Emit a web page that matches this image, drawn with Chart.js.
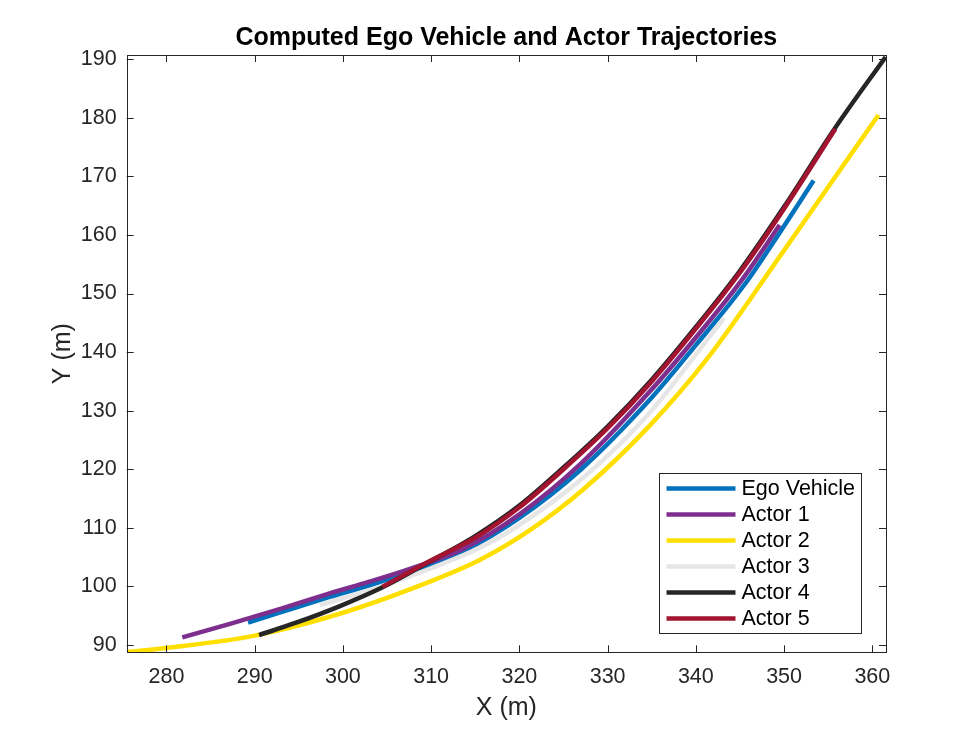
<!DOCTYPE html>
<html>
<head>
<meta charset="utf-8">
<script src="https://cdn.jsdelivr.net/npm/chart.js@4.4.1/dist/chart.umd.min.js"></script>
<style>
  body { margin: 0; background: #fff; }
  #wrap { width: 980px; height: 735px; }
</style>
</head>
<body>
<div id="wrap"><canvas id="traj" width="980" height="735"></canvas></div>
<script>
// trajectories (x, y in metres)
const egoX = [289.25, 293, 298.5, 303, 307.6, 313.6, 320, 327, 334.8, 340, 345.5, 349.5, 353.35];
const egoY = [93.8, 95.6, 98.2, 100.2, 102.5, 106.0, 111.7, 120.0, 131.9, 141.2, 151.5, 160.4, 169.3];

const actor1X = [281.8, 287.2, 293, 298.5, 303, 307.6, 313.6, 320, 327, 334.8, 340, 345.2, 349.5];
const actor1Y = [91.3, 93.6, 96.2, 98.8, 100.8, 103.0, 106.4, 112.3, 121.0, 133.3, 142.5, 152.3, 161.7];

const actor2X = [275.5, 280, 290, 300, 310, 315.5, 321.2, 327.2, 334.8, 341.2, 349.5, 355, 360.7];
const actor2Y = [88.8, 89.5, 91.6, 95.5, 100.9, 104.5, 109.6, 116.5, 127.5, 138.7, 156.3, 168.2, 180.5];

const actor3X = [297.4, 303.8, 310, 315.5, 319.3, 327.2, 334.8, 340.1, 343.2];
const actor3Y = [96.8, 99.7, 103.1, 106.6, 109.8, 118.5, 129.7, 139.8, 145.8];

const actor4X = [290.5, 294.7, 299.6, 304.5, 309.8, 315, 320, 325, 330, 335, 340, 345, 350, 355.8, 361.5];
const actor4Y = [91.7, 93.8, 96.6, 99.85, 104.2, 108.6, 113.8, 120.3, 127.3, 135.3, 144.3, 153.9, 164.8, 178.3, 190.4];

const actor5X = [304.5, 309.8, 315, 320, 325, 330, 335, 340, 345, 350, 355.8];
const actor5Y = [99.95, 104.3, 108.3, 113.5, 120.0, 127.0, 135.0, 144.0, 153.6, 164.5, 178.1];

const seriesNames = ["Ego Vehicle", "Actor 1", "Actor 2", "Actor 3", "Actor 4", "Actor 5"];
const seriesColors = ["#0072BD", "#7E2F8E", "#FFDF00", "#E6E6E6", "#262626", "#A2142F"];
const seriesX = [egoX, actor1X, actor2X, actor3X, actor4X, actor5X];
const seriesY = [egoY, actor1Y, actor2Y, actor3Y, actor4Y, actor5Y];

const xTicks = [280, 290, 300, 310, 320, 330, 340, 350, 360];
const yTicks = [90, 100, 110, 120, 130, 140, 150, 160, 170, 180, 190];
const xLimits = [275.5, 361.55];
const yLimits = [88.75, 190.73];

const axisColor = "#262626";
const fontFamily = "'Liberation Sans', Arial, Helvetica, sans-serif";

function toPoints(xs, ys) {
  return xs.map((x, i) => ({ x: x, y: ys[i] }));
}

// box, inward ticks on all four sides, and the legend in the lower right
const matlabFrame = {
  id: "matlabFrame",
  afterDraw(chart) {
    const ctx = chart.ctx;
    const a = chart.chartArea;
    const xs = chart.scales.x;
    const ys = chart.scales.y;
    const tl = 7;

    ctx.save();
    ctx.strokeStyle = axisColor;
    ctx.lineWidth = 1;
    ctx.strokeRect(Math.round(a.left) + 0.5, Math.round(a.top) + 0.5,
      Math.round(a.right - a.left), Math.round(a.bottom - a.top));

    ctx.beginPath();
    xTicks.forEach(v => {
      const px = Math.round(xs.getPixelForValue(v)) + 0.5;
      ctx.moveTo(px, a.bottom); ctx.lineTo(px, a.bottom - tl);
      ctx.moveTo(px, a.top); ctx.lineTo(px, a.top + tl);
    });
    yTicks.forEach(v => {
      const py = Math.round(ys.getPixelForValue(v)) + 0.5;
      ctx.moveTo(a.left, py); ctx.lineTo(a.left + tl, py);
      ctx.moveTo(a.right, py); ctx.lineTo(a.right - tl, py);
    });
    ctx.stroke();

    // legend
    const right = Math.round(a.right) - 24.5;
    const bottom = Math.round(a.bottom) - 18.5;
    const rowH = 26;
    const boxW = 202;
    const boxH = 160;
    const left = right - boxW;
    const top = bottom - boxH;
    ctx.fillStyle = "#fff";
    ctx.fillRect(left, top, boxW, boxH);
    ctx.strokeStyle = axisColor;
    ctx.strokeRect(left, top, boxW, boxH);

    ctx.font = "21.5px " + fontFamily;
    ctx.textBaseline = "middle";
    ctx.textAlign = "left";
    chart.data.datasets.forEach((ds, i) => {
      const y = top + 15 + i * rowH;
      ctx.strokeStyle = ds.borderColor;
      ctx.lineWidth = 4.5;
      ctx.beginPath();
      ctx.moveTo(left + 7, y);
      ctx.lineTo(left + 76, y);
      ctx.stroke();
      ctx.fillStyle = "#000";
      ctx.fillText(ds.label, left + 82, y + 1);
    });
    ctx.restore();
  }
};

new Chart(document.getElementById("traj"), {
  type: "scatter",
  data: {
    datasets: seriesNames.map((name, i) => ({
      label: name,
      data: toPoints(seriesX[i], seriesY[i]),
      showLine: true,
      borderColor: seriesColors[i],
      backgroundColor: seriesColors[i],
      borderWidth: 4.5,
      borderCapStyle: "butt",
      pointRadius: 0,
      cubicInterpolationMode: "monotone",
      order: seriesNames.length - i
    }))
  },
  options: {
    responsive: false,
    animation: false,
    layout: { padding: { left: 0, right: 94, top: 0, bottom: 0 } },
    plugins: {
      legend: { display: false },
      tooltip: { enabled: false },
      title: {
        display: true,
        fullSize: false,
        text: "Computed Ego Vehicle and Actor Trajectories",
        color: "#000",
        font: { family: fontFamily, size: 25, weight: "bold", lineHeight: 1.2 },
        padding: { top: 23, bottom: 2 }
      }
    },
    scales: {
      x: {
        type: "linear",
        min: xLimits[0],
        max: xLimits[1],
        grid: { display: false, drawTicks: false },
        border: { display: false },
        afterBuildTicks: axis => { axis.ticks = xTicks.map(v => ({ value: v })); },
        afterFit: axis => { axis.height = 82.7; },
        ticks: {
          color: axisColor,
          padding: 12,
          maxRotation: 0,
          autoSkip: false,
          font: { family: fontFamily, size: 21.5 }
        },
        title: {
          display: true,
          text: "X (m)",
          color: axisColor,
          font: { family: fontFamily, size: 25, lineHeight: 1.2 },
          padding: { top: 0, bottom: 12 }
        }
      },
      y: {
        type: "linear",
        min: yLimits[0],
        max: yLimits[1],
        grid: { display: false, drawTicks: false },
        border: { display: false },
        afterBuildTicks: axis => { axis.ticks = yTicks.map(v => ({ value: v })); },
        afterFit: axis => { axis.width = 126.7; },
        ticks: {
          color: axisColor,
          padding: 10,
          autoSkip: false,
          font: { family: fontFamily, size: 21.5 }
        },
        title: {
          display: true,
          text: "Y (m)",
          color: axisColor,
          font: { family: fontFamily, size: 25, lineHeight: 1.2 },
          padding: { top: 48, bottom: 0 }
        }
      }
    }
  },
  plugins: [matlabFrame]
});
</script>
</body>
</html>
